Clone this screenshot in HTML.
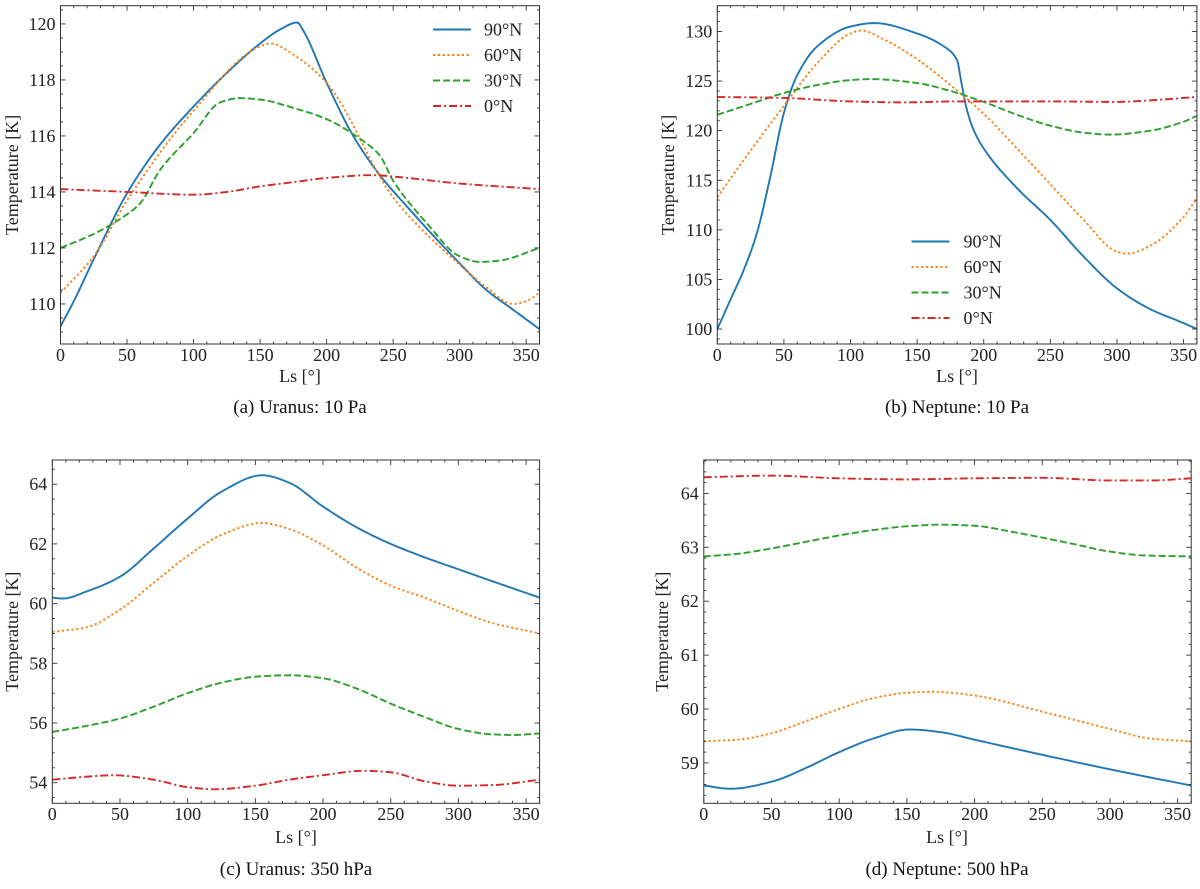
<!DOCTYPE html>
<html><head><meta charset="utf-8">
<style>
body{margin:0;background:#fff;}
svg{display:block;font-family:"Liberation Serif",serif;}
</style></head>
<body>
<svg id="fig" width="1200" height="889" viewBox="0 0 1200 889"></svg>
<script>
// ---- data ----
const seriesNames = ["90°N","60°N","30°N","0°N"];
const captions = ["(a)  Uranus: 10 Pa","(b)  Neptune: 10 Pa","(c)  Uranus: 350 hPa","(d)  Neptune: 500 hPa"];
// Panel a: Uranus 10 Pa
const a90x=[0,10,25,50,75,100,125,150,165,178,182,200,220,240,260,280,300,320,340,360];
const a90y=[109.2,110.1,111.6,113.95,115.7,117.05,118.25,119.3,119.8,120.05,119.8,117.9,116.0,114.6,113.5,112.45,111.45,110.5,109.8,109.1];
const a60x=[0,25,50,100,150,158,175,200,250,300,320,340,350,360];
const a60y=[110.4,111.7,113.7,116.9,119.2,119.3,118.9,117.9,113.8,111.4,110.6,110.0,110.1,110.4];
const a30x=[0,25,50,60,75,100,120,135,150,175,200,225,240,250,275,300,315,330,360];
const a30y=[112.0,112.5,113.2,113.6,114.8,116.1,117.2,117.35,117.3,117.0,116.6,115.9,115.3,114.4,112.9,111.7,111.5,111.55,112.0];
const a0x=[0,50,100,125,150,175,200,235,250,300,360];
const a0y=[114.1,114.0,113.9,114.0,114.2,114.35,114.5,114.6,114.55,114.3,114.1];
// Panel b: Neptune 10 Pa
const b90x=[0,10,20,30,40,50,60,75,100,118,150,170,180,183,187,192,200,225,250,275,300,325,350,360];
const b90y=[100.0,103.0,106.0,109.8,115.5,121.8,125.6,128.5,130.5,130.85,129.8,128.5,127.1,125.0,122.3,120.2,118.2,114.2,111.0,107.3,104.1,102.0,100.6,100.0];
const b60x=[0,25,50,75,100,108,125,150,175,200,225,250,275,300,308,325,350,360];
const b60y=[113.3,118.0,122.5,126.8,129.8,130.1,129.2,127.2,124.6,121.7,118.2,114.6,111.0,107.8,107.6,108.4,111.3,113.2];
const b30x=[0,25,50,75,100,115,150,175,200,225,250,275,295,325,350,360];
const b30y=[121.6,122.7,123.8,124.6,125.1,125.2,124.8,124.0,122.9,121.6,120.5,119.8,119.6,120.0,120.9,121.5];
const b0x=[0,50,100,140,180,250,300,330,360];
const b0y=[123.4,123.3,122.95,122.85,122.95,122.95,122.9,123.1,123.4];
// Panel c: Uranus 350 hPa
const c90x=[0,8,25,50,75,100,125,155,175,200,225,250,275,300,325,360];
const c90y=[60.2,60.17,60.4,60.9,61.85,62.85,63.75,64.3,64.05,63.25,62.55,62.0,61.55,61.15,60.75,60.2];
const c60x=[0,25,50,75,100,125,155,175,200,225,250,275,300,325,360];
const c60y=[59.05,59.2,59.8,60.7,61.6,62.3,62.7,62.5,61.95,61.2,60.6,60.2,59.75,59.35,59.0];
const c30x=[0,25,50,75,100,125,150,175,200,225,250,275,300,325,340,360];
const c30y=[55.7,55.9,56.15,56.55,57.0,57.35,57.55,57.6,57.5,57.15,56.65,56.2,55.8,55.62,55.6,55.65];
const c0x=[0,25,45,75,100,120,150,175,200,230,250,275,300,325,360];
const c0y=[54.1,54.2,54.25,54.1,53.85,53.78,53.9,54.1,54.25,54.4,54.35,54.05,53.9,53.92,54.1];
// Panel d: Neptune 500 hPa
const d90x=[0,20,50,75,100,125,152,175,200,250,300,360];
const d90y=[58.58,58.52,58.65,58.9,59.2,59.45,59.62,59.57,59.43,59.15,58.88,58.58];
const d60x=[0,25,50,75,100,125,150,170,200,250,300,330,360];
const d60y=[59.4,59.43,59.55,59.77,60.0,60.2,60.3,60.32,60.25,59.95,59.63,59.45,59.4];
const d30x=[0,25,50,75,100,125,150,175,200,225,250,275,300,325,360];
const d30y=[62.83,62.88,62.98,63.1,63.22,63.32,63.39,63.42,63.4,63.3,63.18,63.05,62.92,62.85,62.83];
const d0x=[0,50,100,150,200,250,300,330,360];
const d0y=[64.3,64.33,64.28,64.26,64.28,64.29,64.24,64.24,64.28];
const xTicks=[0,50,100,150,200,250,300,350];
const aYTicks=[110,112,114,116,118,120];
const bYTicks=[100,105,110,115,120,125,130];
const cYTicks=[54,56,58,60,62,64];
const dYTicks=[59,60,61,62,63,64];

// ---- drawing ----
const NS="http://www.w3.org/2000/svg";
const svg=document.getElementById('fig');
const colors=["#1f77b4","#ff7f0e","#2ca02c","#d62728"];
const dashes=["none","2.2,2.6","7,3","8,3,2,3"];
function mk(tag,attrs,parent){const e=document.createElementNS(NS,tag);for(const k in attrs)e.setAttribute(k,attrs[k]);(parent||svg).appendChild(e);return e;}
function mono(xs,ys){const n=xs.length,d=[],m=new Array(n);
 for(let i=0;i<n-1;i++)d.push((ys[i+1]-ys[i])/(xs[i+1]-xs[i]));
 m[0]=d[0];m[n-1]=d[n-2];
 for(let i=1;i<n-1;i++){if(d[i-1]*d[i]<=0)m[i]=0;else{const w1=2*(xs[i+1]-xs[i])+(xs[i]-xs[i-1]),w2=(xs[i+1]-xs[i])+2*(xs[i]-xs[i-1]);m[i]=(w1+w2)/(w1/d[i-1]+w2/d[i]);}}
 const pts=[];
 for(let i=0;i<n-1;i++){const h=xs[i+1]-xs[i];for(let s=0;s<8;s++){const t=s/8,t2=t*t,t3=t2*t;
  pts.push([xs[i]+t*h,(2*t3-3*t2+1)*ys[i]+(t3-2*t2+t)*h*m[i]+(-2*t3+3*t2)*ys[i+1]+(t3-t2)*h*m[i+1]]);}}
 pts.push([xs[n-1],ys[n-1]]);return pts;}

const panels=[
 {x0:60.5,x1:539.5,y0:5.7,y1:344,ymin:108.57,ymax:120.65,yt:aYTicks,ym:4,yx:12,cap:[300,413],lab:[300,382],tl:361,ser:[[a90x,a90y],[a60x,a60y],[a30x,a30y],[a0x,a0y]],leg:{lx:433,tx:484,y:29.5}},
 {x0:717.3,x1:1196.9,y0:5.7,y1:344,ymin:98.49,ymax:132.6,yt:bYTicks,ym:5,yx:668,cap:[957,413],lab:[957,382],tl:361,ser:[[b90x,b90y],[b60x,b60y],[b30x,b30y],[b0x,b0y]],leg:{lx:911.5,tx:963.5,y:241.5}},
 {x0:52.3,x1:539.6,y0:460,y1:803.3,ymin:53.31,ymax:64.81,yt:cYTicks,ym:4,yx:12,cap:[296,875],lab:[296,843],tl:820,ser:[[c90x,c90y],[c60x,c60y],[c30x,c30y],[c0x,c0y]]},
 {x0:703.8,x1:1191.2,y0:460,y1:803.3,ymin:58.25,ymax:64.62,yt:dYTicks,ym:5,yx:662,cap:[947,875],lab:[947,843],tl:820,ser:[[d90x,d90y],[d60x,d60y],[d30x,d30y],[d0x,d0y]]}
];
const pnames=["uranus-10pa","neptune-10pa","uranus-350hpa","neptune-500hpa"];
panels.forEach((p,pi)=>{
 const g=mk('g',{});
 
 
 const sx=v=>p.x0+(v/360)*(p.x1-p.x0);
 const sy=v=>p.y1-(v-p.ymin)/(p.ymax-p.ymin)*(p.y1-p.y0);
 p.ser.forEach((s,si)=>{
  const pts=mono(s[0],s[1]);
  const d=pts.map((q,i)=>(i?'L':'M')+sx(q[0]).toFixed(2)+','+sy(q[1]).toFixed(2)).join('');
  const path=mk('path',{d:d,fill:'none',stroke:colors[si],'stroke-width':1.9,'stroke-dasharray':dashes[si]},g);
  
  
 });
 const fr=mk('rect',{x:p.x0,y:p.y0,width:p.x1-p.x0,height:p.y1-p.y0,fill:'none',stroke:'#333','stroke-width':1},g);
 
 
 for(let v=0;v<=360;v+=10){const X=sx(v),maj=v%50===0,L=maj?5:2.5;
  mk('line',{x1:X,x2:X,y1:p.y1,y2:p.y1-L,stroke:'#333','stroke-width':0.9},g);
  mk('line',{x1:X,x2:X,y1:p.y0,y2:p.y0+L,stroke:'#333','stroke-width':0.9},g);}
 xTicks.forEach(v=>{const t=mk('text',{x:sx(v),y:p.tl,'font-size':18,'text-anchor':'middle',fill:'#222'},g);t.textContent=v;
  
  });
 const step=p.yt[1]-p.yt[0],ms=step/p.ym;
 for(let v=p.yt[0]-step;v<=p.ymax+1e-9;v+=ms){if(v<p.ymin-1e-9)continue;const Y=sy(v);
  const maj=Math.abs(((v-p.yt[0])/step)-Math.round((v-p.yt[0])/step))<1e-6,L=maj?5:2.5;
  mk('line',{x1:p.x0,x2:p.x0+L,y1:Y,y2:Y,stroke:'#333','stroke-width':0.9},g);
  mk('line',{x1:p.x1,x2:p.x1-L,y1:Y,y2:Y,stroke:'#333','stroke-width':0.9},g);}
 p.yt.forEach(v=>{const t=mk('text',{x:p.x0-5,y:sy(v)+6,'font-size':18,'text-anchor':'end',fill:'#222'},g);t.textContent=v;
  
  });
 const xl=mk('text',{x:p.lab[0],y:p.lab[1],'font-size':18,'text-anchor':'middle',fill:'#222'},g);xl.textContent='Ls [°]';
 
 
 const yx=p.yx,yc=(p.y0+p.y1)/2;
 const yl=mk('text',{x:yx,y:yc,'font-size':18,'text-anchor':'middle','dominant-baseline':'central',fill:'#222',transform:`rotate(-90 ${yx} ${yc})`},g);yl.textContent='Temperature [K]';
 
 
 const cp=mk('text',{x:p.cap[0],y:p.cap[1],'font-size':19,'text-anchor':'middle',fill:'#111'},g);cp.textContent=captions[pi];
 
 
 if(p.leg){const lg=mk('g',{},g);
  
  
  seriesNames.forEach((n,si)=>{const Y=p.leg.y+si*25.5;
   const ln=mk('line',{x1:p.leg.lx,x2:p.leg.lx+38,y1:Y,y2:Y,stroke:colors[si],'stroke-width':1.9,'stroke-dasharray':dashes[si]},lg);
   
   
   const t=mk('text',{x:p.leg.tx,y:Y+6,'font-size':18,fill:'#222'},lg);t.textContent=n;
   
   });}
});
</script>
</body></html>
